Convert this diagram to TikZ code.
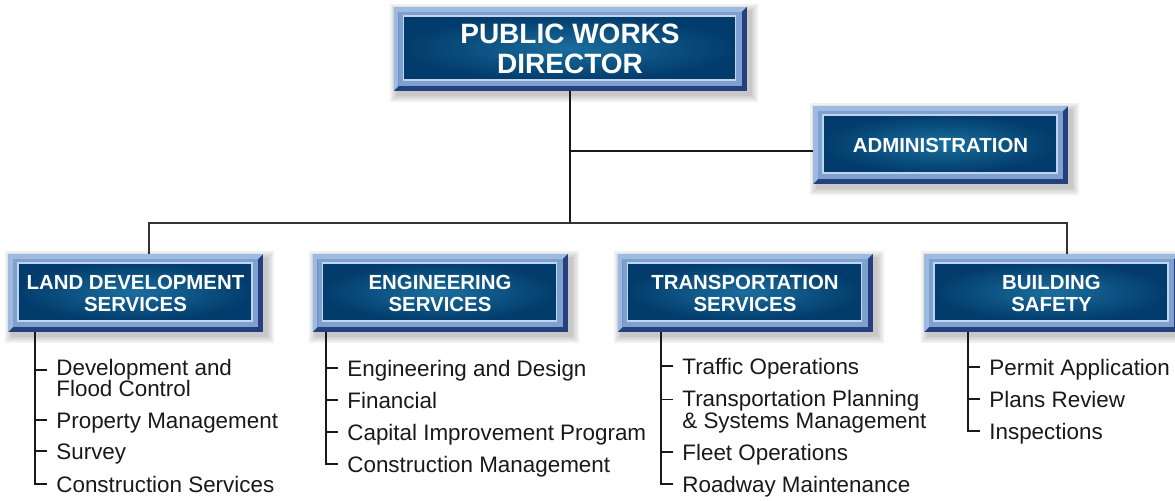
\documentclass[tikz,border=0pt]{standalone}
\usepackage{fontspec}
\setmainfont{Liberation Sans}
\usepackage{xcolor}
\usepackage{tikz}
\usetikzlibrary{calc,backgrounds}

\definecolor{panelhi}{HTML}{1A6E9E}
\definecolor{paneldk}{HTML}{023C6C}
\definecolor{bevlight}{HTML}{9DBBE1}
\definecolor{bevmid}{HTML}{7FA1CF}
\definecolor{bevdark}{HTML}{26407F}
\definecolor{innerline}{HTML}{C3D5EE}

\tikzset{
	panel/.style={
		fill=bevdark, inner sep=0pt, align=center, text=white,
		font=\fontsize{10.2}{11}\selectfont\bfseries,
		minimum width=127.5pt, minimum height=39pt,
		path picture={
			\fill[bevlight] let \p1=(path picture bounding box.south west), \p2=(path picture bounding box.north east) in
				(\x1,\y1) -- (\x1,\y2) -- (\x2,\y2) -- (\x2-2.5pt,\y2-2.5pt) -- (\x1+2.5pt,\y2-2.5pt) -- (\x1+2.5pt,\y1+2.5pt) -- cycle;
			\fill[bevmid] let \p1=(path picture bounding box.south west), \p2=(path picture bounding box.north east) in
				(\x1+2.5pt,\y1+2.5pt) rectangle (\x2-2.5pt,\y2-2.5pt);
			\shadedraw[inner color=panelhi, outer color=paneldk, draw=innerline, line width=0.8pt]
				let \p1=(path picture bounding box.south west), \p2=(path picture bounding box.north east) in
				(\x1+5pt,\y1+5.5pt) rectangle (\x2-5.5pt,\y2-4.5pt);
		}
	},
	headpanel/.style={
		minimum width=176.5pt, minimum height=42pt,
		font=\fontsize{14}{15}\selectfont\bfseries
	},
	item2/.style={
		anchor=west, inner sep=0pt, align=left, text=black!90,
		font=\fontsize{11.2}{10.5}\selectfont
	},
	item/.style={item2, text height=8.2pt, text depth=0pt},
	link/.style={line width=0.65pt, black!90},
	bus/.style={line width=0.6pt, black!80}
}

\begin{document}
\begin{tikzpicture}[x=0.5pt,y=-0.5pt]
	\useasboundingbox (0,0) rectangle (1175,500);
	% boxes
	\node[panel,headpanel] (dir) at (570,49) {PUBLIC WORKS\\DIRECTOR};
	\node[panel] (adm) at (940.5,145) {ADMINISTRATION};
	\node[panel] (land) at (135.5,293) {LAND DEVELOPMENT\\SERVICES};
	\node[panel] (eng) at (440,293) {ENGINEERING\\SERVICES};
	\node[panel] (trans) at (745,293) {TRANSPORTATION\\SERVICES};
	\node[panel] (bld) at (1051.5,293) {BUILDING\\SAFETY};
	%
	\begin{scope}[on background layer]
		\foreach \n in {dir,adm,land,eng,trans,bld}
			\foreach \k in {0.5,1.5,2.5,3.5}
				\fill[black,opacity=.06] ([shift={(2pt-\k pt,-2pt+\k pt)}]\n.north west) rectangle ([shift={(2pt+\k pt,-2pt-\k pt)}]\n.south east);
	\end{scope}
	%
	\coordinate (br) at (dir.south |- 0,151);
	\coordinate (busL) at (149,223);
	\coordinate (busR) at (1067,223);
	\draw[link] (dir.south) -- (dir.south |- busL);
	\draw[link] (br) -- (br -| adm.west);
	\draw[bus] (busL |- land.north) -- (busL) -- (busR) -- (busR |- bld.north);
	%
	\node[item2] (dev) at (56,378) {Development and\\Flood Control};
	\node[item] (pm) at (56,420) {Property Management};
	\node[item] (sv) at (56,451) {Survey};
	\node[item] (cs) at (56,484) {Construction Services};
	%
	\node[item] (ed) at (347,368) {Engineering and Design};
	\node[item] (fin) at (347,400) {Financial};
	\node[item] (cip) at (347,432) {Capital Improvement Program};
	\node[item] (cm) at (347,464) {Construction Management};
	%
	\node[item] (to) at (682,366) {Traffic Operations};
	\node[item2] (tp) at (682,411.5) {Transportation Planning\\[0.75pt]\& Systems Management};
	\node[item] (fo) at (682,452) {Fleet Operations};
	\node[item] (rm) at (682,484) {Roadway Maintenance};
	%
	\node[item] (pa) at (989,367) {Permit Application};
	\node[item] (pr) at (989,399) {Plans Review};
	\node[item] (ins) at (989,431) {Inspections};
	%
	\coordinate (landbar) at (35,0);
	\coordinate (engbar) at (326,0);
	\coordinate (transbar) at (661,0);
	\coordinate (bldbar) at (968,0);
	\draw[link] (landbar |- land.south) -- (landbar |- cs.west) -- ([xshift=-4.5pt]cs.west);
	\draw[link] (engbar |- eng.south) -- (engbar |- cm.west) -- ([xshift=-4.5pt]cm.west);
	\draw[link] (transbar |- trans.south) -- (transbar |- rm.west) -- ([xshift=-4.5pt]rm.west);
	\draw[link] (bldbar |- bld.south) -- (bldbar |- ins.west) -- ([xshift=-4.5pt]ins.west);
	\foreach \i/\s in {dev/4pt,pm/0pt,sv/0pt,ed/0pt,fin/0pt,cip/0pt,to/0pt,tp/6pt,fo/0pt,pa/0pt,pr/0pt}
		\draw[link] ([shift={(-10.5pt,\s)}]\i.west) -- ++(6pt,0);
\end{tikzpicture}
\end{document}
